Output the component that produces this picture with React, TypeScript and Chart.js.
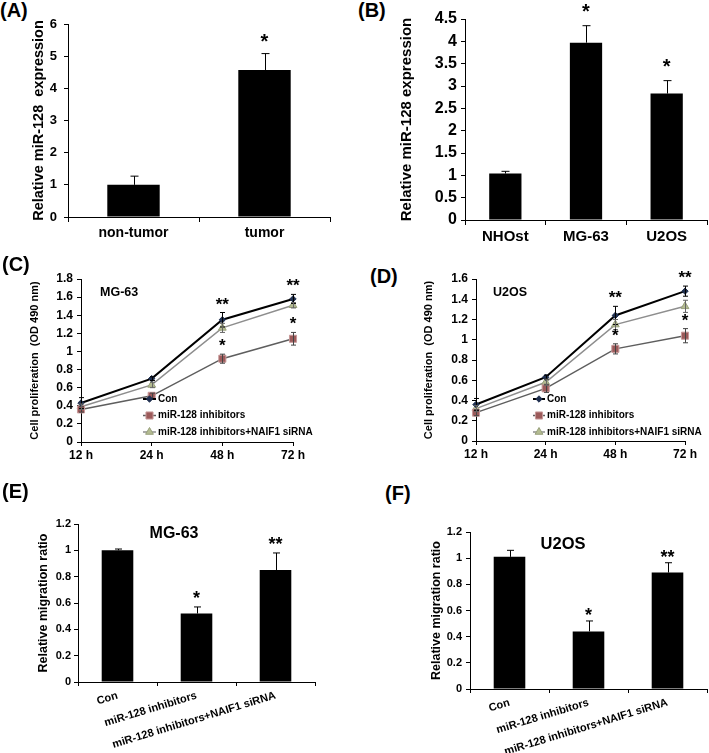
import React, { useEffect, useRef } from 'react';
import { Chart, registerables } from 'chart.js';

Chart.register(...registerables);

const FONT = "'Liberation Sans', Arial, Helvetica, sans-serif";

// ---------------- Data ----------------
// (A)
const aCategories = ['non-tumor', 'tumor'];
const aValues = [1.0, 4.57];
const aErrors = [0.27, 0.51];
const aStars = ['', '*'];
// (B)
const bCategories = ['NHOst', 'MG-63', 'U2OS'];
const bValues = [1.04, 3.97, 2.83];
const bErrors = [0.05, 0.38, 0.29];
const bStars = ['', '*', '*'];
// (C), (D)
const timeLabels = ['12 h', '24 h', '48 h', '72 h'];
const seriesNames = ['Con', 'miR-128 inhibitors', 'miR-128 inhibitors+NAIF1 siRNA'];
const cCon = [0.43, 0.70, 1.35, 1.58];
const cConErr = [0.06, 0.02, 0.08, 0.05];
const cInh = [0.36, 0.51, 0.92, 1.14];
const cInhErr = [0.03, 0.03, 0.05, 0.07];
const cNaif = [0.39, 0.63, 1.26, 1.51];
const cNaifErr = [0.03, 0.03, 0.05, 0.03];
const cConStars = ['', '', '**', '**'];
const cInhStars = ['', '', '*', '*'];
const dCon = [0.36, 0.63, 1.24, 1.48];
const dConErr = [0.06, 0.02, 0.09, 0.05];
const dInh = [0.28, 0.52, 0.91, 1.04];
const dInhErr = [0.03, 0.04, 0.05, 0.07];
const dNaif = [0.32, 0.58, 1.15, 1.33];
const dNaifErr = [0.03, 0.03, 0.05, 0.06];
const dConStars = ['', '', '**', '**'];
const dInhStars = ['', '', '*', '*'];
// (E), (F)
const migCategories = ['Con', 'miR-128 inhibitors', 'miR-128 inhibitors+NAIF1 siRNA'];
const eValues = [1.0, 0.52, 0.85];
const eErrors = [0.01, 0.05, 0.13];
const eStars = ['', '*', '**'];
const fValues = [1.01, 0.44, 0.89];
const fErrors = [0.05, 0.08, 0.075];
const fStars = ['', '*', '**'];

// ---------------- Styles ----------------
const seriesStyles = [
  { line: '#000000', lw: 2, shape: 'rectRot', r: 3.2, fill: '#1f2f4f', stroke: '#1f2f4f', err: '#000000' },
  { line: '#5e5e5e', lw: 1.5, shape: 'rect', r: 5, fill: '#9c5a5a', stroke: '#c89a9a', err: '#444444' },
  { line: '#8e8e8e', lw: 1.5, shape: 'triangle', r: 4.5, fill: '#b4bc92', stroke: '#98a07a', err: '#666666' },
];

const bold = (size: number) => ({ family: FONT, size, weight: 'bold' as const });
const fontStr = (size: number) => `bold ${size}px ${FONT}`;
const fmt = (v: any) => String(Math.round(Number(v) * 100) / 100);

function drawMarker(ctx: CanvasRenderingContext2D, shape: string, x: number, y: number, r: number, fill: string, stroke: string) {
  ctx.save();
  ctx.fillStyle = fill;
  ctx.strokeStyle = stroke;
  ctx.lineWidth = 1;
  ctx.beginPath();
  if (shape === 'rectRot') {
    ctx.moveTo(x, y - r); ctx.lineTo(x + r, y); ctx.lineTo(x, y + r); ctx.lineTo(x - r, y); ctx.closePath();
  } else if (shape === 'rect') {
    const s = r * Math.SQRT1_2;
    ctx.rect(x - s, y - s, 2 * s, 2 * s);
  } else {
    ctx.moveTo(x, y - r);
    ctx.lineTo(x + r * 0.866, y + r / 2);
    ctx.lineTo(x - r * 0.866, y + r / 2);
    ctx.closePath();
  }
  ctx.fill();
  ctx.stroke();
  ctx.restore();
}

const extrasPlugin = {
  id: 'extras',
  afterDatasetsDraw(chart: any, _args: any, opts: any) {
    const ctx: CanvasRenderingContext2D = chart.ctx;
    const ys = chart.scales.y;
    (opts.errorBars || []).forEach((eb: any) => {
      const meta = chart.getDatasetMeta(eb.dataset);
      const vals = chart.data.datasets[eb.dataset].data;
      ctx.save();
      ctx.strokeStyle = eb.color;
      ctx.lineWidth = eb.width;
      meta.data.forEach((el: any, i: number) => {
        const e = eb.errors[i];
        if (!e) return;
        const x = Math.round(el.x) + 0.5;
        const top = ys.getPixelForValue(vals[i] + e);
        const bot = eb.both ? ys.getPixelForValue(vals[i] - e) : ys.getPixelForValue(vals[i]);
        ctx.beginPath();
        ctx.moveTo(x, bot);
        ctx.lineTo(x, top);
        ctx.moveTo(x - eb.cap / 2, top);
        ctx.lineTo(x + eb.cap / 2, top);
        if (eb.both) {
          ctx.moveTo(x - eb.cap / 2, bot);
          ctx.lineTo(x + eb.cap / 2, bot);
        }
        ctx.stroke();
      });
      ctx.restore();
    });
    (opts.stars || []).forEach((st: any) => {
      const meta = chart.getDatasetMeta(st.dataset);
      const vals = chart.data.datasets[st.dataset].data;
      ctx.save();
      ctx.font = st.font;
      ctx.fillStyle = '#000';
      ctx.textAlign = 'center';
      ctx.textBaseline = 'alphabetic';
      meta.data.forEach((el: any, i: number) => {
        const m = st.marks[i];
        if (!m) return;
        const top = ys.getPixelForValue(vals[i] + (st.errors[i] || 0));
        ctx.fillText(m, el.x, top - st.gap);
      });
      ctx.restore();
    });
    (opts.texts || []).forEach((t: any) => {
      ctx.save();
      ctx.font = t.font;
      ctx.fillStyle = '#000';
      ctx.textAlign = t.align || 'left';
      ctx.textBaseline = 'middle';
      ctx.fillText(t.text, t.x, t.y);
      ctx.restore();
    });
    const lg = opts.legend;
    if (lg) {
      lg.items.forEach((it: any, k: number) => {
        const y = lg.y0 + k * lg.dy;
        ctx.save();
        ctx.strokeStyle = it.line;
        ctx.lineWidth = it.lw;
        ctx.beginPath();
        ctx.moveTo(lg.x1, y);
        ctx.lineTo(lg.x2, y);
        ctx.stroke();
        ctx.restore();
        drawMarker(ctx, it.shape, (lg.x1 + lg.x2) / 2, y, it.r, it.fill, it.stroke);
        ctx.save();
        ctx.font = lg.font;
        ctx.fillStyle = '#000';
        ctx.textAlign = 'left';
        ctx.textBaseline = 'middle';
        ctx.fillText(it.text, lg.x2 + 2, y);
        ctx.restore();
      });
    }
  },
};
Chart.register(extrasPlugin as any);

type Box = { l: number; t: number; r: number; b: number };

function axisCommon(tickLen: number) {
  return {
    grid: { display: true, drawOnChartArea: false, drawTicks: true, tickLength: tickLen, color: '#000', lineWidth: 1 },
    border: { display: true, color: '#000', width: 1 },
  };
}

function barConfig(o: any) {
  const box: Box = o.box;
  const plot: Box = o.plot;
  return {
    type: 'bar',
    data: {
      labels: o.labels,
      datasets: [{ data: o.values, backgroundColor: '#000', borderWidth: 0, barPercentage: 0.4, categoryPercentage: 1 }],
    },
    options: {
      animation: false,
      responsive: false,
      devicePixelRatio: 1,
      layout: { padding: { left: 0, top: plot.t - box.t, right: box.r - plot.r, bottom: 0 } },
      plugins: {
        legend: { display: false },
        tooltip: { enabled: false },
        extras: {
          errorBars: [{ dataset: 0, errors: o.errors, color: '#000', width: 1, cap: o.cap, both: false }],
          stars: [{ dataset: 0, errors: o.errors, marks: o.stars, font: fontStr(o.starSize), gap: o.starGap }],
          texts: (o.texts || []).map((t: any) => ({ ...t, x: t.x - box.l, y: t.y - box.t })),
        },
      },
      scales: {
        x: {
          ...axisCommon(o.xTickLen),
          ticks: { color: '#000', font: bold(o.xSize), padding: o.xPad, autoSkip: false, minRotation: o.rot || 0, maxRotation: o.rot || 0 },
          afterFit: (s: any) => { s.height = box.b - plot.b; },
        },
        y: {
          ...axisCommon(4),
          min: 0,
          max: o.max,
          ticks: { color: '#000', font: bold(o.ySize), padding: o.yPad, stepSize: o.step, callback: fmt },
          title: { display: true, text: o.yTitle, color: '#000', font: bold(o.titleSize), padding: 0 },
          afterFit: (s: any) => { s.width = plot.l - box.l; },
        },
      },
    },
  };
}

function lineConfig(o: any) {
  const box: Box = o.box;
  const plot: Box = o.plot;
  const datasets = o.series.map((d: number[], k: number) => {
    const st = seriesStyles[k];
    return {
      label: seriesNames[k],
      data: d,
      borderColor: st.line,
      borderWidth: st.lw,
      backgroundColor: st.fill,
      pointStyle: st.shape,
      pointRadius: st.r,
      pointBackgroundColor: st.fill,
      pointBorderColor: st.stroke,
      pointBorderWidth: 1,
      tension: 0,
      fill: false,
    };
  });
  return {
    type: 'line',
    data: { labels: timeLabels, datasets },
    options: {
      animation: false,
      responsive: false,
      devicePixelRatio: 1,
      layout: { padding: { left: 0, top: plot.t - box.t, right: box.r - plot.r, bottom: 0 } },
      plugins: {
        legend: { display: false },
        tooltip: { enabled: false },
        extras: {
          errorBars: o.errors.map((e: number[], k: number) => ({ dataset: k, errors: e, color: seriesStyles[k].err, width: 1, cap: 5, both: true })),
          stars: o.stars.map((s: any) => ({ dataset: s.dataset, errors: o.errors[s.dataset], marks: s.marks, font: fontStr(17), gap: 3 })),
          texts: (o.texts || []).map((t: any) => ({ ...t, x: t.x - box.l, y: t.y - box.t })),
          legend: {
            x1: o.legend.x1 - box.l,
            x2: o.legend.x2 - box.l,
            y0: o.legend.y0 - box.t,
            dy: o.legend.dy,
            font: fontStr(10),
            items: seriesStyles.map((st, k) => ({ ...st, text: seriesNames[k] })),
          },
        },
      },
      scales: {
        x: {
          ...axisCommon(4),
          offset: false,
          grid: { ...axisCommon(4).grid, offset: false },
          ticks: { color: '#000', font: bold(12), padding: 2, autoSkip: false, maxRotation: 0, minRotation: 0 },
          afterFit: (s: any) => { s.height = box.b - plot.b; },
        },
        y: {
          ...axisCommon(4),
          min: 0,
          max: o.max,
          ticks: { color: '#000', font: bold(12), padding: 4, stepSize: 0.2, callback: fmt },
          title: { display: true, text: 'Cell proliferation  (OD 490 nm)', color: '#000', font: bold(11), padding: 0 },
          afterFit: (s: any) => { s.width = plot.l - box.l; },
        },
      },
    },
  };
}

const panels: { box: Box; make: () => any }[] = [
  {
    box: { l: 30, t: 0, r: 340, b: 250 },
    make: () => barConfig({
      box: { l: 30, t: 0, r: 340, b: 250 }, plot: { l: 68, t: 24, r: 330, b: 217 },
      labels: aCategories, values: aValues, errors: aErrors, stars: aStars,
      max: 6, step: 1, yTitle: 'Relative miR-128  expression',
      ySize: 13, xSize: 14, titleSize: 14.5, starSize: 20, starGap: 6, cap: 8,
      yPad: 7, xPad: 3, xTickLen: 5,
    }),
  },
  {
    box: { l: 398, t: 0, r: 709, b: 250 },
    make: () => barConfig({
      box: { l: 398, t: 0, r: 709, b: 250 }, plot: { l: 465, t: 19, r: 707, b: 220 },
      labels: bCategories, values: bValues, errors: bErrors, stars: bStars,
      max: 4.5, step: 0.5, yTitle: 'Relative miR-128 expression',
      ySize: 16, xSize: 15, titleSize: 15, starSize: 20, starGap: 8, cap: 8,
      yPad: 4, xPad: 3, xTickLen: 5,
    }),
  },
  {
    box: { l: 28, t: 262, r: 322, b: 470 },
    make: () => lineConfig({
      box: { l: 28, t: 262, r: 322, b: 470 }, plot: { l: 81, t: 279, r: 293, b: 442 },
      max: 1.8,
      series: [cCon, cInh, cNaif],
      errors: [cConErr, cInhErr, cNaifErr],
      stars: [{ dataset: 0, marks: cConStars }, { dataset: 1, marks: cInhStars }],
      texts: [{ text: 'MG-63', x: 100, y: 293, font: fontStr(12.5) }],
      legend: { x1: 143, x2: 156, y0: 399, dy: 16.5 },
    }),
  },
  {
    box: { l: 422, t: 262, r: 709, b: 470 },
    make: () => lineConfig({
      box: { l: 422, t: 262, r: 709, b: 470 }, plot: { l: 476, t: 279, r: 685, b: 441 },
      max: 1.6,
      series: [dCon, dInh, dNaif],
      errors: [dConErr, dInhErr, dNaifErr],
      stars: [{ dataset: 0, marks: dConStars }, { dataset: 1, marks: dInhStars }],
      texts: [{ text: 'U2OS', x: 493, y: 293, font: fontStr(12.5) }],
      legend: { x1: 533, x2: 545, y0: 399, dy: 16.5 },
    }),
  },
  {
    box: { l: 36, t: 505, r: 340, b: 753 },
    make: () => barConfig({
      box: { l: 36, t: 505, r: 340, b: 753 }, plot: { l: 78, t: 524, r: 315, b: 682 },
      labels: migCategories, values: eValues, errors: eErrors, stars: eStars,
      max: 1.2, step: 0.2, yTitle: 'Relative migration ratio',
      ySize: 11, xSize: 11, titleSize: 12.5, starSize: 18, starGap: 3, cap: 7,
      yPad: 3, xPad: 3, xTickLen: 4, rot: 17,
      texts: [{ text: 'MG-63', x: 174, y: 534, font: fontStr(16), align: 'center' }],
    }),
  },
  {
    box: { l: 429, t: 505, r: 709, b: 753 },
    make: () => barConfig({
      box: { l: 429, t: 505, r: 709, b: 753 }, plot: { l: 470, t: 532, r: 707, b: 689 },
      labels: migCategories, values: fValues, errors: fErrors, stars: fStars,
      max: 1.2, step: 0.2, yTitle: 'Relative migration ratio',
      ySize: 11, xSize: 11, titleSize: 12.5, starSize: 18, starGap: 0, cap: 7,
      yPad: 4, xPad: 3, xTickLen: 4, rot: 17,
      texts: [{ text: 'U2OS', x: 563, y: 544, font: fontStr(16.5), align: 'center' }],
    }),
  },
];

const letters = [
  { t: '(A)', x: 0, y: 0 },
  { t: '(B)', x: 358, y: 0 },
  { t: '(C)', x: 2, y: 254 },
  { t: '(D)', x: 370, y: 266 },
  { t: '(E)', x: 2, y: 481 },
  { t: '(F)', x: 385, y: 483 },
];

function Panel({ box, make }: { box: Box; make: () => any }) {
  const ref = useRef<HTMLCanvasElement>(null);
  useEffect(() => {
    const chart = new Chart(ref.current as HTMLCanvasElement, make());
    return () => chart.destroy();
  }, []);
  const w = box.r - box.l;
  const h = box.b - box.t;
  return (
    <canvas
      ref={ref}
      width={w}
      height={h}
      style={{ position: 'absolute', left: box.l, top: box.t, width: w, height: h }}
    />
  );
}

export default function App() {
  return (
    <div style={{ position: 'absolute', left: 0, top: 0, width: 709, height: 753, background: '#fff', overflow: 'hidden' }}>
      {panels.map((p, i) => (
        <Panel key={i} box={p.box} make={p.make} />
      ))}
      {letters.map((l) => (
        <div
          key={l.t}
          style={{
            position: 'absolute', left: l.x, top: l.y, fontFamily: FONT, fontWeight: 'bold',
            fontSize: 20, lineHeight: '20px', color: '#000', whiteSpace: 'nowrap',
          }}
        >
          {l.t}
        </div>
      ))}
    </div>
  );
}
